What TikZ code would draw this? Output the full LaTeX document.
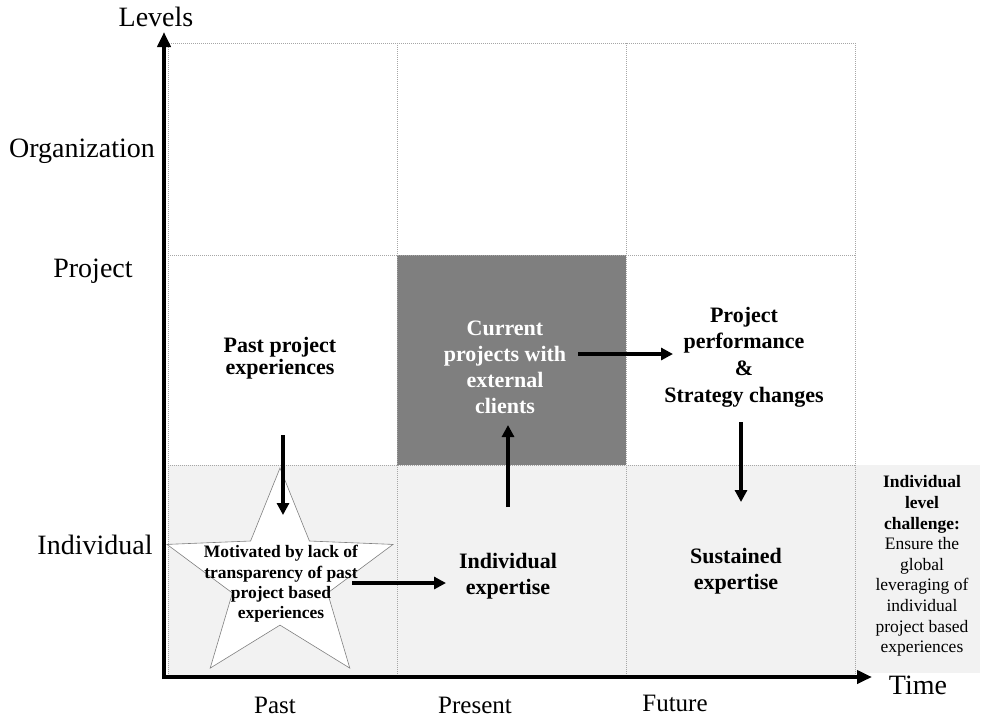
\documentclass[tikz,border=0pt]{standalone}
\usepackage{fontspec}
\setmainfont{Liberation Serif}
\usetikzlibrary{arrows.meta}
\definecolor{lightcell}{HTML}{F2F2F2}
\definecolor{darkcell}{HTML}{7F7F7F}
\definecolor{gridgray}{HTML}{A6A6A6}
\begin{document}
\begin{tikzpicture}[x=1pt,y=-1pt,
  gridline/.style={draw=gridgray, line width=0.8pt, dash pattern=on 1pt off 1pt},
  axis/.style={line width=4pt, -{Triangle[length=15pt,width=13pt]}},
  flow/.style={line width=3.5pt, -{Triangle[length=12pt,width=12pt]}},
  axislabel/.style={font=\fontsize{28}{32}\selectfont, inner sep=0pt},
  timelabel/.style={font=\fontsize{25}{30}\selectfont, inner sep=0pt},
  celltext/.style={font=\fontsize{22}{26}\selectfont\bfseries, align=center, inner sep=0pt},
  startext/.style={font=\fontsize{17.5}{20.3}\selectfont\bfseries, align=center, inner sep=0pt},
  sidetext/.style={font=\fontsize{17.5}{20.6}\selectfont, align=center, inner sep=0pt}
]
\useasboundingbox (0,0) rectangle (981,721);

% backgrounds
\fill[lightcell] (168,465) rectangle (855,675);
\fill[lightcell] (855,465) rectangle (980,673);
\fill[darkcell] (397,255) rectangle (626,465);

% grid
\draw[gridline] (168,43) rectangle (855,675);
\draw[gridline] (397,43) -- (397,675);
\draw[gridline] (626,43) -- (626,675);
\draw[gridline] (168,255) -- (855,255);
\draw[gridline] (168,465) -- (855,465);

% star
\draw[fill=white, draw=gray, line width=0.6pt]
  (280,468) -- (250.6,541) -- (167,544.4) -- (232.4,593) -- (210.2,668.1)
  -- (280,625.1) -- (349.8,668.1) -- (327.6,593) -- (393,544.4) -- (309.4,541) -- cycle;

% axes
\coordinate (yorig) at (164,679);
\coordinate (ytip) at (164,32);
\coordinate (xorig) at (162,677);
\coordinate (xtip) at (872,677);
\draw[axis] (yorig) -- (ytip);
\draw[axis] (xorig) -- (xtip);

% axis labels
\node[axislabel] (levels) at (156,17) {Levels};
\node[axislabel] (org) at (82,151) {Organization};
\node[axislabel] (proj) at (93,271) {Project};
\node[axislabel] (indiv) at (95,545) {Individual};
\node[timelabel] (past) at (275,705) {Past};
\node[timelabel] (present) at (475,705) {Present};
\node[timelabel] (future) at (675,703) {Future};
\node[axislabel] (time) at (918,685) {Time};

% cell texts
\node[celltext, font=\fontsize{22}{22}\selectfont\bfseries] (pastexp) at (280,358) {Past project\\experiences};
\node[celltext, text=white] (current) at (505,367) {Current\\projects with\\external\\clients};
\node[celltext, font=\fontsize{22}{26.7}\selectfont\bfseries] (perf) at (744,357) {Project\\performance\\\&\\Strategy changes};
\node[celltext] (indexp) at (508,576) {Individual\\expertise};
\node[celltext] (sustexp) at (736,571) {Sustained\\expertise};
\node[startext] (motiv) at (281,584) {Motivated by lack of\\transparency of past\\project based\\experiences};
\node[sidetext] (challenge) at (922,566) {\textbf{Individual}\\\textbf{level}\\\textbf{challenge:}\\Ensure the\\global\\leveraging of\\individual\\project based\\experiences};

% flow arrows
\coordinate (a1s) at (283,435); \coordinate (a1e) at (283,515);
\coordinate (a2s) at (352,583); \coordinate (a2e) at (446,583);
\coordinate (a3s) at (508,507); \coordinate (a3e) at (508,425);
\coordinate (a4s) at (578,354); \coordinate (a4e) at (673,354);
\coordinate (a5s) at (741,422); \coordinate (a5e) at (741,502);
\draw[flow] (a1s) -- (a1e);
\draw[flow] (a2s) -- (a2e);
\draw[flow] (a3s) -- (a3e);
\draw[flow] (a4s) -- (a4e);
\draw[flow] (a5s) -- (a5e);
\end{tikzpicture}
\end{document}
